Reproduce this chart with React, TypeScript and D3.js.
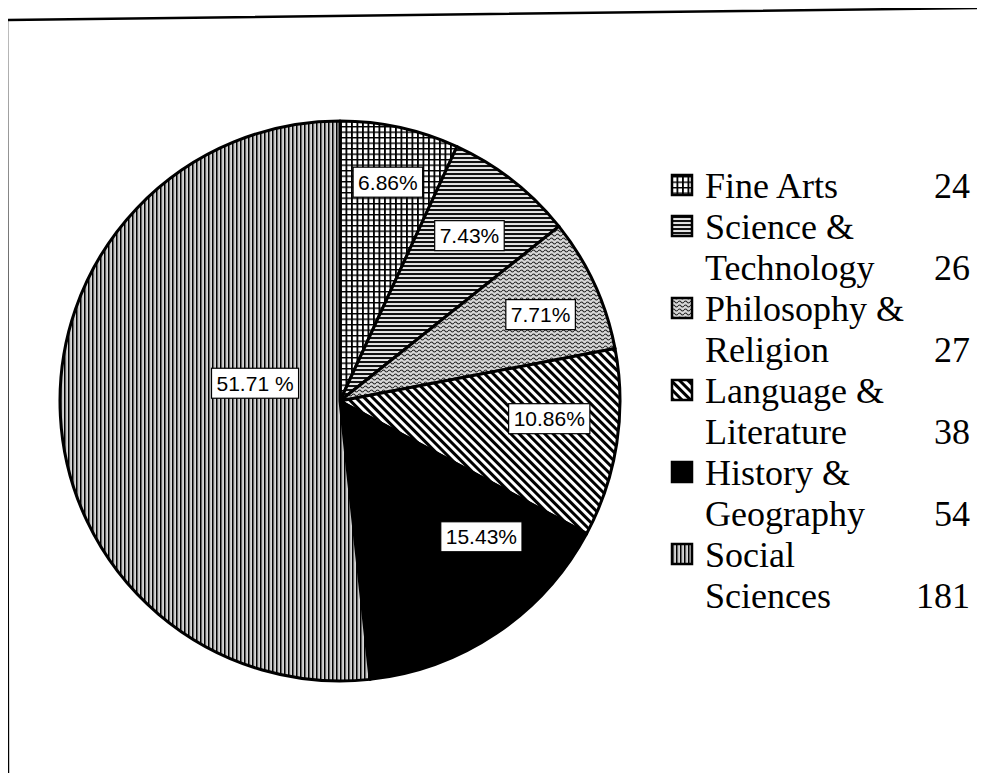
import React, { useEffect, useRef } from 'react';
import * as d3 from 'd3';

// data
const categories = ['Fine Arts', 'Science & Technology', 'Philosophy & Religion', 'Language & Literature', 'History & Geography', 'Social Sciences'];
const legendLines = [['Fine Arts'], ['Science &', 'Technology'], ['Philosophy &', 'Religion'], ['Language &', 'Literature'], ['History &', 'Geography'], ['Social', 'Sciences']];
const counts = [24, 26, 27, 38, 54, 181];
const percentLabels = ['6.86%', '7.43%', '7.71%', '10.86%', '15.43%', '51.71 %'];

// where inside each slice the label box sits: [fraction along the slice, fraction of radius]
const labelPlace = [[0.5, 0.8], [0.5, 0.75], [0.55, 0.78], [0.4, 0.75], [0.28, 0.7], [0.58, 0.31]];
const patternIds = ['pGrid', 'pHoriz', 'pWave', 'pDiag', 'pSolid', 'pVert'];

export default function App() {
  const ref = useRef<SVGSVGElement | null>(null);

  useEffect(() => {
    const cx = 340;
    const cy = 401;
    const radius = 280;

    const svg = d3.select(ref.current);
    svg.selectAll('*').remove();

    const defs = svg.append('defs');

    // fine arts: little squares
    const grid = defs.append('pattern').attr('id', 'pGrid').attr('patternUnits', 'userSpaceOnUse').attr('width', 5.5).attr('height', 5.5);
    grid.append('rect').attr('width', 5.5).attr('height', 5.5).attr('fill', '#fff');
    grid.append('rect').attr('x', 0).attr('width', 1.8).attr('height', 5.5).attr('fill', '#000');
    grid.append('rect').attr('y', 0).attr('width', 5.5).attr('height', 1.4).attr('fill', '#000');

    // science: horizontal lines
    const horiz = defs.append('pattern').attr('id', 'pHoriz').attr('patternUnits', 'userSpaceOnUse').attr('width', 6).attr('height', 4);
    horiz.append('rect').attr('width', 6).attr('height', 4).attr('fill', '#fff');
    horiz.append('rect').attr('width', 6).attr('height', 2).attr('fill', '#111');
    horiz.append('rect').attr('y', 2.6).attr('width', 6).attr('height', 0.7).attr('fill', '#aaa');

    // philosophy: wavy texture
    const wave = defs.append('pattern').attr('id', 'pWave').attr('patternUnits', 'userSpaceOnUse').attr('width', 6).attr('height', 4);
    wave.append('rect').attr('width', 6).attr('height', 4).attr('fill', '#d8d8d8');
    wave.append('path').attr('d', 'M0,2 Q1.5,0 3,2 T6,2').attr('fill', 'none').attr('stroke', '#222').attr('stroke-width', 1.1);

    // language: diagonal stripes running top-left to bottom-right
    const diag = defs.append('pattern').attr('id', 'pDiag').attr('patternUnits', 'userSpaceOnUse').attr('width', 6).attr('height', 6)
      .attr('patternTransform', 'rotate(-45)');
    diag.append('rect').attr('width', 6).attr('height', 6).attr('fill', '#fff');
    diag.append('rect').attr('width', 3).attr('height', 6).attr('fill', '#000');

    const solid = defs.append('pattern').attr('id', 'pSolid').attr('patternUnits', 'userSpaceOnUse').attr('width', 4).attr('height', 4);
    solid.append('rect').attr('width', 4).attr('height', 4).attr('fill', '#000');

    // social sciences: dense vertical lines
    const vert = defs.append('pattern').attr('id', 'pVert').attr('patternUnits', 'userSpaceOnUse').attr('width', 4).attr('height', 4);
    vert.append('rect').attr('width', 4).attr('height', 4).attr('fill', '#fff');
    vert.append('rect').attr('x', 0).attr('width', 1.6).attr('height', 4).attr('fill', '#000');
    vert.append('rect').attr('x', 2.4).attr('width', 1).attr('height', 4).attr('fill', '#9a9a9a');

    // scanned frame
    svg.append('path')
      .attr('d', 'M7,20 L985,8 M7,19 L8,781 M600,779 L985,778')
      .attr('fill', 'none')
      .attr('stroke', '#000')
      .attr('stroke-width', 2.5);

    const pie = d3.pie<number>().sort(null).value((d) => d);
    const arcs = pie(counts);
    const arc = d3.arc<d3.PieArcDatum<number>>().innerRadius(0).outerRadius(radius);

    const g = svg.append('g').attr('transform', 'translate(' + cx + ',' + cy + ')');

    g.selectAll('path.slice')
      .data(arcs)
      .enter()
      .append('path')
      .attr('class', 'slice')
      .attr('d', arc)
      .attr('fill', (d, i) => 'url(#' + patternIds[i] + ')')
      .attr('stroke', '#000')
      .attr('stroke-width', 3)
      .attr('stroke-linejoin', 'round');

    // percentage labels
    const labels = g.selectAll('g.lbl')
      .data(arcs)
      .enter()
      .append('g')
      .attr('class', 'lbl')
      .attr('transform', (d, i) => {
        const a = d.startAngle + (d.endAngle - d.startAngle) * labelPlace[i][0];
        const rr = radius * labelPlace[i][1];
        return 'translate(' + Math.sin(a) * rr + ',' + -Math.cos(a) * rr + ')';
      });

    labels.each(function (d, i) {
      const lg = d3.select(this);
      const t = lg.append('text')
        .text(percentLabels[i])
        .attr('text-anchor', 'middle')
        .attr('dy', '0.36em')
        .attr('font-family', 'Liberation Sans, Arial, sans-serif')
        .attr('font-size', 21)
        .attr('fill', '#000');
      const bb = (t.node() as SVGTextElement).getBBox();
      lg.insert('rect', 'text')
        .attr('x', bb.x - 5)
        .attr('y', -15)
        .attr('width', bb.width + 10)
        .attr('height', 30)
        .attr('fill', '#fff')
        .attr('stroke', '#000')
        .attr('stroke-width', 1.2);
    });

    // legend
    const lineStep = 41;
    const legendTop = 198;
    const legend = svg.append('g');
    let lineNo = 0;
    legendLines.forEach((lines, i) => {
      const baseY = legendTop + lineNo * lineStep;
      legend.append('rect')
        .attr('x', 672)
        .attr('y', baseY - 23)
        .attr('width', 20)
        .attr('height', 20)
        .attr('fill', 'url(#' + patternIds[i] + ')')
        .attr('stroke', '#000')
        .attr('stroke-width', 2.5);
      lines.forEach((ln, j) => {
        legend.append('text')
          .text(ln)
          .attr('x', 705)
          .attr('y', baseY + j * lineStep)
          .attr('font-family', 'Liberation Serif, Times New Roman, serif')
          .attr('font-size', 36)
          .attr('fill', '#000');
      });
      legend.append('text')
        .text(counts[i])
        .attr('x', 970)
        .attr('y', baseY + (lines.length - 1) * lineStep)
        .attr('text-anchor', 'end')
        .attr('font-family', 'Liberation Serif, Times New Roman, serif')
        .attr('font-size', 36)
        .attr('fill', '#000');
      lineNo += lines.length;
    });

    svg.attr('aria-label', categories.join(', '));
  }, []);

  return (
    <div style={{ margin: -8 }}>
      <svg ref={ref} width={985} height={781} style={{ display: 'block', background: '#fff' }} />
    </div>
  );
}
